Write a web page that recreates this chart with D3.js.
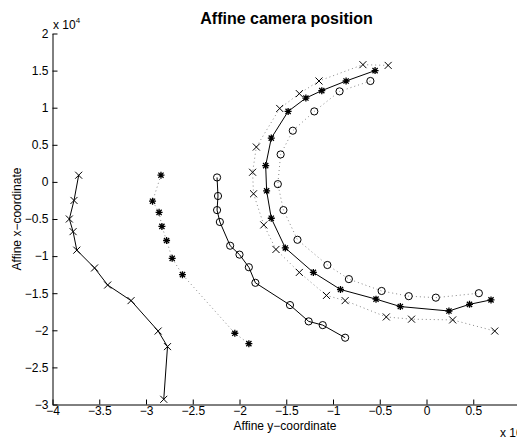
<!DOCTYPE html>
<html>
<head>
<meta charset="utf-8">
<script src="https://cdn.jsdelivr.net/npm/d3@7"></script>
<style>
  body { margin: 0; background: #fff; }
  svg { font-family: "Liberation Sans", Arial, sans-serif; }
</style>
</head>
<body>
<svg id="chart" width="517" height="439"></svg>
<script>
// values in units of 10^4
var leftX = [[-3.72, 0.09], [-3.77, -0.25], [-3.82, -0.50], [-3.78, -0.67], [-3.74, -0.92],
             [-3.55, -1.16], [-3.41, -1.39], [-3.16, -1.60], [-2.87, -2.01], [-2.77, -2.22], [-2.81, -2.93]];
var leftStar = [[-2.84, 0.09], [-2.93, -0.26], [-2.86, -0.41], [-2.83, -0.60], [-2.78, -0.79],
                [-2.72, -1.03], [-2.61, -1.25], [-2.05, -2.04], [-1.90, -2.18]];
var leftCircle = [[-2.24, 0.06], [-2.23, -0.19], [-2.24, -0.38], [-2.21, -0.54], [-2.10, -0.86],
                  [-2.00, -0.98], [-1.90, -1.15], [-1.83, -1.36], [-1.46, -1.66], [-1.26, -1.88],
                  [-1.11, -1.93], [-0.87, -2.10]];
var rightStar = [[-0.55, 1.50], [-0.86, 1.36], [-1.12, 1.23], [-1.29, 1.13], [-1.48, 0.95],
                 [-1.66, 0.59], [-1.72, 0.22], [-1.71, -0.12], [-1.66, -0.49], [-1.51, -0.89],
                 [-1.21, -1.22], [-0.92, -1.45], [-0.54, -1.58], [-0.28, -1.68], [0.24, -1.74],
                 [0.46, -1.65], [0.69, -1.59]];
var rightX = [[-0.41, 1.57], [-0.68, 1.58], [-1.15, 1.36], [-1.36, 1.19], [-1.57, 0.99],
              [-1.82, 0.47], [-1.86, 0.13], [-1.85, -0.16], [-1.74, -0.58], [-1.61, -0.91],
              [-1.36, -1.22], [-1.07, -1.53], [-0.87, -1.60], [-0.43, -1.82], [-0.16, -1.85],
              [0.28, -1.86], [0.73, -2.01]];
var rightCircle = [[-0.60, 1.36], [-0.93, 1.22], [-1.20, 0.95], [-1.43, 0.69], [-1.56, 0.37],
                   [-1.59, -0.03], [-1.53, -0.38], [-1.38, -0.78], [-1.06, -1.12], [-0.83, -1.31],
                   [-0.48, -1.47], [-0.19, -1.54], [0.10, -1.56], [0.56, -1.50]];

var xTicks = [-4, -3.5, -3, -2.5, -2, -1.5, -1, -0.5, 0, 0.5];
var yTicks = [-3, -2.5, -2, -1.5, -1, -0.5, 0, 0.5, 1, 1.5, 2];

var series = [
  {data: leftX, line: "solid", marker: "x"},
  {data: leftStar, line: "dotted", marker: "star"},
  {data: leftCircle, line: "solid", marker: "o"},
  {data: rightX, line: "dotted", marker: "x"},
  {data: rightCircle, line: "dotted", marker: "o"},
  {data: rightStar, line: "solid", marker: "star"}
];

var svg = d3.select("#chart");

var x = d3.scaleLinear().domain([-4, 1]).range([52.5, 520]);
var y = d3.scaleLinear().domain([-3, 2]).range([404.5, 33.5]);
var fmt = d3.format("");

// axes, ticks inward like matlab
var xAxis = svg.append("g")
    .attr("transform", "translate(0," + y(-3) + ")")
    .call(d3.axisBottom(x).tickValues(xTicks).tickFormat(fmt)
        .tickSizeInner(-5).tickSizeOuter(0).tickPadding(9));
var yAxis = svg.append("g")
    .attr("transform", "translate(" + x(-4) + ",0)")
    .call(d3.axisLeft(y).tickValues(yTicks).tickFormat(fmt)
        .tickSizeInner(-5).tickSizeOuter(0).tickPadding(9));

[xAxis, yAxis].forEach(function (g) {
    g.selectAll("text").attr("font-size", 12).attr("fill", "#000")
        .attr("font-family", "Liberation Sans, Arial, sans-serif");
    g.selectAll("line").attr("stroke", "#000");
    g.select(".domain").attr("stroke", "#000");
});
yAxis.selectAll("text").attr("x", -4);
xAxis.selectAll("text").attr("y", 2);

var line = d3.line()
    .x(function (d) { return x(d[0]); })
    .y(function (d) { return y(d[1]); });

function markerPath(type) {
    var s = 3.5, t = 2.6;
    if (type == "x")
        return "M" + -s + "," + -s + "L" + s + "," + s + "M" + -s + "," + s + "L" + s + "," + -s;
    if (type == "star")
        return "M" + -s + ",0L" + s + ",0M0," + -s + "L0," + s +
            "M" + -t + "," + -t + "L" + t + "," + t + "M" + -t + "," + t + "L" + t + "," + -t;
    return null;
}

series.forEach(function (s) {
    svg.append("path")
        .datum(s.data)
        .attr("d", line)
        .attr("fill", "none")
        .attr("stroke", s.line == "solid" ? "#000" : "#888")
        .attr("stroke-width", 1)
        .attr("stroke-dasharray", s.line == "solid" ? null : "1,3");

    var m = svg.append("g").selectAll(".m")
        .data(s.data)
        .enter();
    if (s.marker == "o") {
        m.append("circle")
            .attr("cx", function (d) { return x(d[0]); })
            .attr("cy", function (d) { return y(d[1]); })
            .attr("r", 3.6)
            .attr("fill", "none")
            .attr("stroke", "#000")
            .attr("stroke-width", 1);
    } else {
        m.append("path")
            .attr("transform", function (d) { return "translate(" + x(d[0]) + "," + y(d[1]) + ")"; })
            .attr("d", markerPath(s.marker))
            .attr("fill", "none")
            .attr("stroke", "#000")
            .attr("stroke-width", s.marker == "star" ? 1.3 : 1);
    }
});

// title and labels
svg.append("text")
    .attr("x", 286.5).attr("y", 24)
    .attr("text-anchor", "middle")
    .attr("font-size", 16).attr("font-weight", "bold")
    .text("Affine camera position");

svg.append("text")
    .attr("x", 285).attr("y", 430)
    .attr("text-anchor", "middle")
    .attr("font-size", 12)
    .text("Affine y\u2212coordinate");

svg.append("text")
    .attr("transform", "translate(21,219) rotate(-90)")
    .attr("text-anchor", "middle")
    .attr("font-size", 12)
    .text("Affine x\u2212coordinate");

// exponent labels (the lower one is cut by the figure edge, as in the original)
var e1 = svg.append("text").attr("x", 53).attr("y", 29).attr("font-size", 12);
e1.append("tspan").text("x 10");
e1.append("tspan").attr("dy", -6).attr("font-size", 8).text("4");

var e2 = svg.append("text").attr("x", 500).attr("y", 437).attr("font-size", 12);
e2.append("tspan").text("x 10");
e2.append("tspan").attr("dy", -6).attr("font-size", 8).text("4");
</script>
</body>
</html>
